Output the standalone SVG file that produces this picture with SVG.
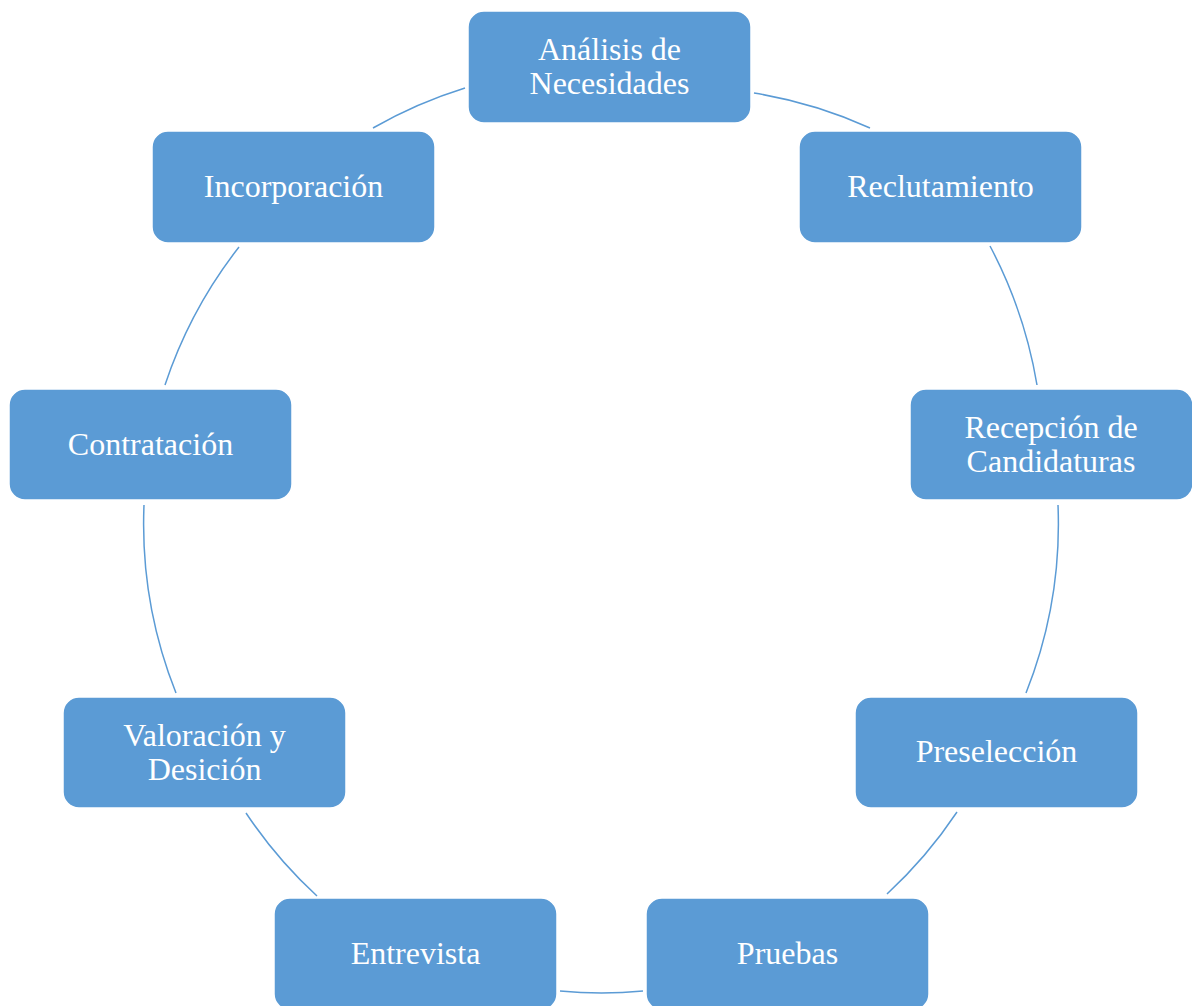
<svg xmlns="http://www.w3.org/2000/svg" width="1192" height="1006" viewBox="0 0 1192 1006">
<style>
.box{fill:#5B9BD5;stroke:#ffffff;stroke-width:1.5}
.lbl{font-family:"Liberation Serif","Times New Roman",serif;font-size:32px;fill:#ffffff;text-anchor:middle}
.arc{fill:none;stroke:#5B9BD5;stroke-width:1.5}
</style>
<rect width="1192" height="1006" fill="#ffffff"/>
<g id="connectors">
<path class="arc" d="M754,93 A458,458 0 0 1 870,128"/>
<path class="arc" d="M990,246 A458,458 0 0 1 1037,385"/>
<path class="arc" d="M1058,505 A458,458 0 0 1 1026,693"/>
<path class="arc" d="M957,812 A458,458 0 0 1 887,894"/>
<path class="arc" d="M643,991 A458,458 0 0 1 560,991"/>
<path class="arc" d="M317,896 A458,458 0 0 1 246,813"/>
<path class="arc" d="M176,693 A458,458 0 0 1 144,505"/>
<path class="arc" d="M165,385 A458,458 0 0 1 239,247"/>
<path class="arc" d="M373,128 A458,458 0 0 1 465,88"/>
</g>
<g id="n1"><rect class="box" x="468" y="11" width="283" height="112" rx="16"/><text class="lbl" x="609.5" y="60">Análisis de</text><text class="lbl" x="609.5" y="94">Necesidades</text></g>
<g id="n2"><rect class="box" x="799" y="131" width="283" height="112" rx="16"/><text class="lbl" x="940.5" y="197">Reclutamiento</text></g>
<g id="n3"><rect class="box" x="910" y="389" width="283" height="111" rx="16"/><text class="lbl" x="1051" y="438">Recepción de</text><text class="lbl" x="1051" y="472">Candidaturas</text></g>
<g id="n4"><rect class="box" x="855" y="697" width="283" height="111" rx="16"/><text class="lbl" x="996.5" y="762">Preselección</text></g>
<g id="n5"><rect class="box" x="646" y="898" width="283" height="112" rx="16"/><text class="lbl" x="787.5" y="964">Pruebas</text></g>
<g id="n6"><rect class="box" x="274" y="898" width="283" height="112" rx="16"/><text class="lbl" x="415.5" y="964">Entrevista</text></g>
<g id="n7"><rect class="box" x="63" y="697" width="283" height="111" rx="16"/><text class="lbl" x="204.5" y="746">Valoración y</text><text class="lbl" x="204.5" y="780">Desición</text></g>
<g id="n8"><rect class="box" x="9" y="389" width="283" height="111" rx="16"/><text class="lbl" x="150.5" y="455">Contratación</text></g>
<g id="n9"><rect class="box" x="152" y="131" width="283" height="112" rx="16"/><text class="lbl" x="293.5" y="197">Incorporación</text></g>
</svg>
